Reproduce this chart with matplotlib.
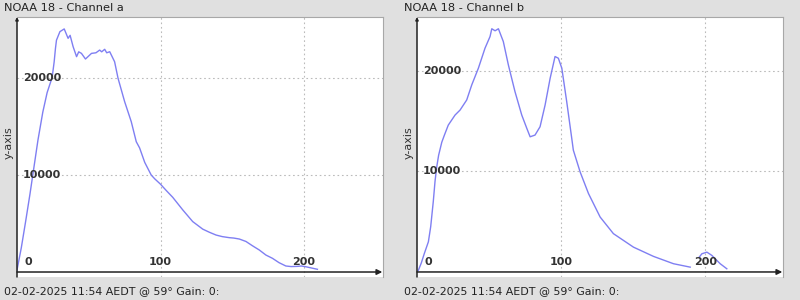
import numpy as np
import matplotlib
matplotlib.use("Agg")
import matplotlib.pyplot as plt

# Channel a
xa = [0, 3, 6, 9, 11, 14.6, 18, 21, 24.5, 25.9, 26.8, 27.5, 29.9, 32.9, 35.6, 37, 39.1,
      41.5, 43, 44.9, 47.7, 51.9, 55, 57.6, 59, 61.1, 62.5, 64.6, 68, 70.4, 75, 79.6,
      83.1, 85.4, 89, 93.5, 96, 100, 104, 108.5, 115.5, 122.4, 129.4, 134, 138.7,
      143, 147.9, 151, 154.9, 159.5, 164.1, 168.8, 173.4, 178, 182.6, 187.3, 191,
      195.3, 198, 201, 205, 209.3]
ya = [200, 2500, 5200, 8000, 10000, 13600, 16500, 18500, 20070, 21680, 23060, 23900,
      24780, 25060, 24090, 24400, 23230, 22200, 22700, 22540, 21960, 22540, 22600,
      22880, 22700, 22960, 22600, 22710, 21680, 19970, 17560, 15500, 13430, 12800,
      11300, 10000, 9600, 9050, 8400, 7700, 6400, 5200, 4420, 4100, 3810, 3650, 3540,
      3500, 3400, 3150, 2700, 2270, 1750, 1410, 960, 620, 560, 580, 620, 550, 420, 280]

# Channel b
xb = [0.9, 3, 5, 7.9, 9.5, 11.3, 12.5, 13.7, 15, 17.2, 19, 21.7, 26.4, 29.9, 34.5, 38,
      42.6, 47.2, 50.7, 51.9, 54.2, 56.5, 59.9, 63.4, 68, 72.7, 76.2, 78.5, 81.9, 85.4,
      88.9, 92.4, 95.8, 98.1, 100.5, 103.9, 107.4, 108.5, 113.2, 119, 127.1, 136.3,
      150.2, 164.1, 178, 189.6, np.nan, 196, 197.7, 201.2, 204.6, 210.4, 215]
yb = [150, 900, 1800, 3000, 4500, 7000, 9000, 10450, 11600, 12900, 13600, 14600, 15600,
      16100, 17100, 18600, 20260, 22250, 23410, 24180, 23980, 24180, 22910, 20590,
      17930, 15600, 14280, 13440, 13610, 14440, 16600, 19260, 21420, 21250, 20260,
      16930, 13280, 12110, 9950, 7800, 5460, 3810, 2470, 1550, 820, 480, np.nan, 1500,
      1810, 1970, 1650, 820, 320]

panels = [
    ("NOAA 18 - Channel a", xa, ya, (0, 255), (-515, 26290), 17),
    ("NOAA 18 - Channel b", xb, yb, (0, 254), (-500, 25350), 417),
]
footer = "02-02-2025 11:54 AEDT @ 59\u00b0 Gain: 0:"

bg = "#e0e0e0"
line_col = "#7f7ff2"
txt_col = "#333333"

fig = plt.figure(figsize=(8, 3), dpi=100, facecolor=bg)
W, H = 800, 300

for title, xs, ys, xlim, ylim, left_px in panels:
    ax = fig.add_axes([left_px / W, 23 / H, 366 / W, 260 / H], facecolor="white")
    ax.plot(xs, ys, color=line_col, lw=1.0)
    ax.set_xlim(*xlim)
    ax.set_ylim(*ylim)

    # dotted grid
    for gx in (100, 200):
        ax.axvline(gx, color="#bbbbbb", lw=0.8, ls=(0, (1.5, 2.5)), zorder=0)
    for gy in (10000, 20000):
        ax.axhline(gy, color="#bbbbbb", lw=0.8, ls=(0, (1.5, 2.5)), zorder=0)

    ax.set_xticks([])
    ax.set_yticks([])
    for s in ax.spines.values():
        s.set_color("#a8a8a8")
        s.set_linewidth(0.8)
    ax.spines["left"].set_visible(False)
    ax.spines["bottom"].set_visible(False)

    # axis lines with arrows
    ax.annotate("", xy=(xlim[1] - 0.5, 0), xytext=(0, 0),
                arrowprops=dict(arrowstyle="-|>", color="#222222", lw=1.1,
                                mutation_scale=8, shrinkA=0, shrinkB=0),
                annotation_clip=False)
    ax.annotate("", xy=(0, ylim[1]), xytext=(0, ylim[0]),
                arrowprops=dict(arrowstyle="-|>", color="#222222", lw=1.1,
                                mutation_scale=4, shrinkA=0, shrinkB=0),
                annotation_clip=False)

    # tick labels inside the plot
    for gy in (10000, 20000):
        ax.text(4, gy, str(gy), color=txt_col, fontsize=8, fontweight="bold",
                ha="left", va="center")
    ax.text(5, 500, "0", color=txt_col, fontsize=8, fontweight="bold",
            ha="left", va="bottom")
    for gx in (100, 200):
        ax.text(gx, 500, str(gx), color=txt_col, fontsize=8, fontweight="bold",
                ha="center", va="bottom")

    # titles, axis label and footer (figure coordinates)
    fig.text((left_px - 13) / W, 1 - 8 / H, title, fontsize=8.2, color="#222222",
             ha="left", va="center")
    fig.text((left_px - 8) / W, 1 - 143 / H, "y-axis", fontsize=8, color=txt_col,
             rotation=90, ha="center", va="center")
    fig.text((left_px - 13) / W, 1 - 291 / H, footer, fontsize=7.9, color="#222222",
             ha="left", va="center")

fig.savefig("out.png", dpi=100, facecolor=bg)
